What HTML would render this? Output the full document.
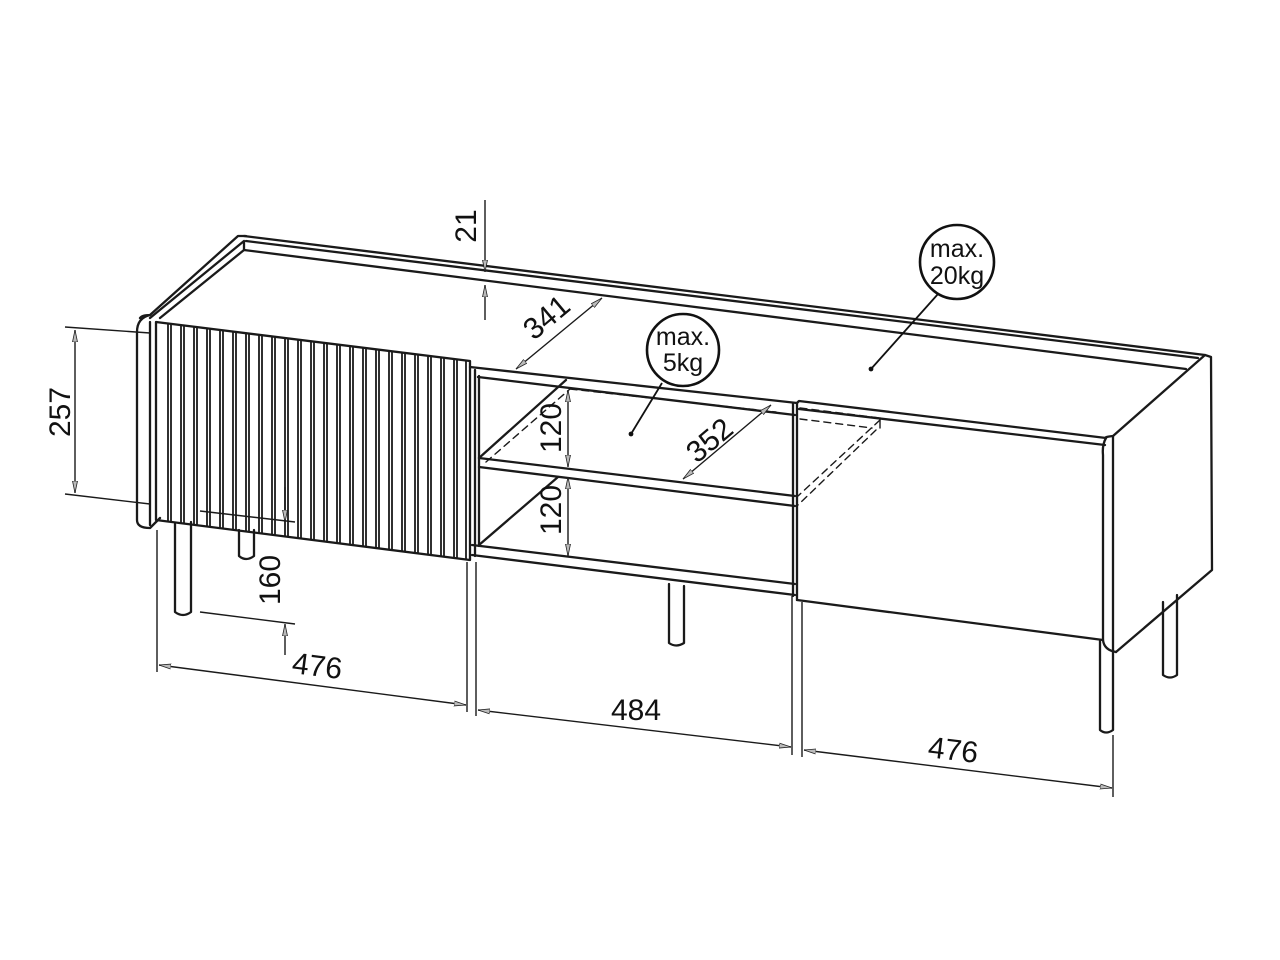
<!DOCTYPE html>
<html><head><meta charset="utf-8"><style>
html,body{margin:0;padding:0;background:#fff;}
svg{display:block;}
text{font-family:"Liberation Sans","DejaVu Sans",sans-serif;fill:#111;}
</style></head><body>
<svg width="1280" height="960" viewBox="0 0 1280 960" xmlns="http://www.w3.org/2000/svg">
<defs>
<marker id="a" viewBox="0 0 12 6" refX="12" refY="3" markerWidth="12" markerHeight="6" orient="auto-start-reverse" markerUnits="userSpaceOnUse">
<path d="M0,0.5 L12,3 L0,5.5 Z" fill="#bbb" stroke="#222" stroke-width="0.8"/>
</marker>
<clipPath id="door"><polygon points="156,322 470,361 470,560 156,520"/></clipPath>
</defs>
<g fill="none" stroke="#1a1a1a" stroke-width="2.3" stroke-linecap="round" stroke-linejoin="round">
<line x1="244" y1="236" x2="1205" y2="355"/>
<line x1="246" y1="241" x2="1198" y2="358"/>
<line x1="244" y1="250" x2="1186" y2="369"/>
<path d="M140,318 Q142,315 150,315 L238,236 L246,236"/>
<path d="M150,318 L244,241 L244,250 L160,318"/>
<path d="M150,315 Q137,318 137,332 L137,520 Q137,528 150,528 L160,518"/>
<line x1="150" y1="322" x2="150" y2="525"/>
<polygon points="156,322 470,361 470,560 156,520"/>
<g clip-path="url(#door)" stroke-width="1.8">
<line x1="168" y1="300" x2="168" y2="600"/><line x1="171" y1="300" x2="171" y2="600"/>
<line x1="181" y1="300" x2="181" y2="600"/><line x1="184" y1="300" x2="184" y2="600"/>
<line x1="194" y1="300" x2="194" y2="600"/><line x1="197" y1="300" x2="197" y2="600"/>
<line x1="207" y1="300" x2="207" y2="600"/><line x1="210" y1="300" x2="210" y2="600"/>
<line x1="220" y1="300" x2="220" y2="600"/><line x1="223" y1="300" x2="223" y2="600"/>
<line x1="233" y1="300" x2="233" y2="600"/><line x1="236" y1="300" x2="236" y2="600"/>
<line x1="246" y1="300" x2="246" y2="600"/><line x1="249" y1="300" x2="249" y2="600"/>
<line x1="259" y1="300" x2="259" y2="600"/><line x1="262" y1="300" x2="262" y2="600"/>
<line x1="272" y1="300" x2="272" y2="600"/><line x1="275" y1="300" x2="275" y2="600"/>
<line x1="285" y1="300" x2="285" y2="600"/><line x1="288" y1="300" x2="288" y2="600"/>
<line x1="298" y1="300" x2="298" y2="600"/><line x1="301" y1="300" x2="301" y2="600"/>
<line x1="311" y1="300" x2="311" y2="600"/><line x1="314" y1="300" x2="314" y2="600"/>
<line x1="324" y1="300" x2="324" y2="600"/><line x1="327" y1="300" x2="327" y2="600"/>
<line x1="337" y1="300" x2="337" y2="600"/><line x1="340" y1="300" x2="340" y2="600"/>
<line x1="350" y1="300" x2="350" y2="600"/><line x1="353" y1="300" x2="353" y2="600"/>
<line x1="363" y1="300" x2="363" y2="600"/><line x1="366" y1="300" x2="366" y2="600"/>
<line x1="376" y1="300" x2="376" y2="600"/><line x1="379" y1="300" x2="379" y2="600"/>
<line x1="389" y1="300" x2="389" y2="600"/><line x1="392" y1="300" x2="392" y2="600"/>
<line x1="402" y1="300" x2="402" y2="600"/><line x1="405" y1="300" x2="405" y2="600"/>
<line x1="415" y1="300" x2="415" y2="600"/><line x1="418" y1="300" x2="418" y2="600"/>
<line x1="428" y1="300" x2="428" y2="600"/><line x1="431" y1="300" x2="431" y2="600"/>
<line x1="441" y1="300" x2="441" y2="600"/><line x1="444" y1="300" x2="444" y2="600"/>
<line x1="454" y1="300" x2="454" y2="600"/><line x1="457" y1="300" x2="457" y2="600"/>
<line x1="466" y1="300" x2="466" y2="600"/>
</g>
<line x1="470" y1="367" x2="797" y2="403"/>
<line x1="478" y1="377" x2="795" y2="415"/>
<line x1="475" y1="370" x2="475" y2="556"/>
<line x1="479" y1="376" x2="479" y2="546"/>
<line x1="793" y1="403" x2="793" y2="596"/>
<line x1="479" y1="458" x2="795" y2="496"/>
<line x1="479" y1="467" x2="795" y2="506"/>
<line x1="479" y1="458" x2="566" y2="380"/>
<line x1="486" y1="462" x2="570" y2="389" stroke-dasharray="7,5" stroke-width="1.4"/>
<line x1="570" y1="389" x2="776" y2="412" stroke-dasharray="7,5" stroke-width="1.4"/>
<line x1="479" y1="545" x2="558" y2="477"/>
<line x1="472" y1="545" x2="795" y2="584"/>
<line x1="472" y1="555" x2="795" y2="595"/>
<path d="M797,403 L799,401 L1106,438"/>
<line x1="799" y1="409" x2="1105" y2="445"/>
<line x1="797" y1="403" x2="797" y2="600"/>
<line x1="797" y1="600" x2="1103" y2="640"/>
<g stroke-dasharray="7,5" stroke-width="1.4">
<line x1="800" y1="408" x2="880" y2="418"/>
<line x1="800" y1="419" x2="872" y2="428"/>
<line x1="880" y1="420" x2="798" y2="496"/>
<line x1="876" y1="430" x2="798" y2="505"/>
</g>
<line x1="880" y1="418" x2="880" y2="428" stroke-width="1.4"/>
<path d="M1106,438 Q1104,437 1113,436 L1205,355 L1211,357 L1212,570 L1116,652"/>
<path d="M1113,436 L1113,652"/>
<path d="M1106,438 Q1102,445 1103,455 L1103,640 Q1104,650 1116,652"/>
<path d="M175,524 L175,612 Q183,618 191,612 L191,522"/>
<path d="M239,530 L239,556 Q246,562 254,556 L254,530"/>
<path d="M669,584 L669,643 Q676,648 684,643 L684,586"/>
<path d="M1100,641 L1100,730 Q1106,735 1113,730 L1113,652"/>
<path d="M1163,602 L1163,675 Q1170,680 1177,675 L1177,595"/>
</g>

<g fill="none" stroke="#1a1a1a" stroke-width="1.4">
<line x1="65" y1="327" x2="150" y2="333"/>
<line x1="65" y1="494" x2="150" y2="504"/>
<line x1="75" y1="330" x2="75" y2="493" marker-start="url(#a)" marker-end="url(#a)"/>
<line x1="485" y1="200" x2="485" y2="272" marker-end="url(#a)"/>
<line x1="485" y1="320" x2="485" y2="285" marker-end="url(#a)"/>
<line x1="516" y1="369" x2="602" y2="298" marker-start="url(#a)" marker-end="url(#a)"/>
<line x1="568" y1="390" x2="568" y2="467" marker-start="url(#a)" marker-end="url(#a)"/>
<line x1="568" y1="477" x2="568" y2="556" marker-start="url(#a)" marker-end="url(#a)"/>
<line x1="683" y1="479" x2="771" y2="405" marker-start="url(#a)" marker-end="url(#a)"/>
<line x1="200" y1="511" x2="295" y2="522"/>
<line x1="200" y1="612" x2="295" y2="624"/>
<line x1="285" y1="487" x2="285" y2="522" marker-end="url(#a)"/>
<line x1="285" y1="655" x2="285" y2="624" marker-end="url(#a)"/>
<line x1="157" y1="530" x2="157" y2="672"/>
<line x1="467" y1="562" x2="467" y2="712"/>
<line x1="159" y1="665" x2="466" y2="705" marker-start="url(#a)" marker-end="url(#a)"/>
<line x1="476" y1="562" x2="476" y2="716"/>
<line x1="792" y1="596" x2="792" y2="755"/>
<line x1="478" y1="710" x2="791" y2="747" marker-start="url(#a)" marker-end="url(#a)"/>
<line x1="802" y1="602" x2="802" y2="757"/>
<line x1="1113" y1="735" x2="1113" y2="797"/>
<line x1="804" y1="750" x2="1112" y2="788" marker-start="url(#a)" marker-end="url(#a)"/>
</g>

<g fill="none" stroke="#111" stroke-width="2.6">
<circle cx="683" cy="350" r="36"/>
<circle cx="957" cy="262" r="37"/>
</g>
<g stroke="#111" stroke-width="1.8">
<line x1="662" y1="383" x2="631" y2="434"/>
<line x1="938" y1="294" x2="871" y2="369"/>
</g>
<circle cx="631" cy="434" r="2.4" fill="#111"/>
<circle cx="871" cy="369" r="2.4" fill="#111"/>
<g font-size="25" text-anchor="middle">
<text x="683" y="345">max.</text>
<text x="683" y="371">5kg</text>
<text x="957" y="257">max.</text>
<text x="957" y="284">20kg</text>
</g>

<g font-size="30">
<text transform="translate(70,412) rotate(-90)" text-anchor="middle">257</text>
<text transform="translate(476,226) rotate(-90)" text-anchor="middle">21</text>
<text transform="translate(553,325) rotate(-40)" text-anchor="middle">341</text>
<text transform="translate(561,428) rotate(-90)" text-anchor="middle">120</text>
<text transform="translate(561,510) rotate(-90)" text-anchor="middle">120</text>
<text transform="translate(716,448) rotate(-40)" text-anchor="middle">352</text>
<text transform="translate(280,580) rotate(-90)" text-anchor="middle">160</text>
<text transform="translate(316,676) rotate(7.3)" text-anchor="middle">476</text>
<text transform="translate(636,720)" text-anchor="middle">484</text>
<text transform="translate(952,760) rotate(7)" text-anchor="middle">476</text>
</g>
</svg>
</body></html>
